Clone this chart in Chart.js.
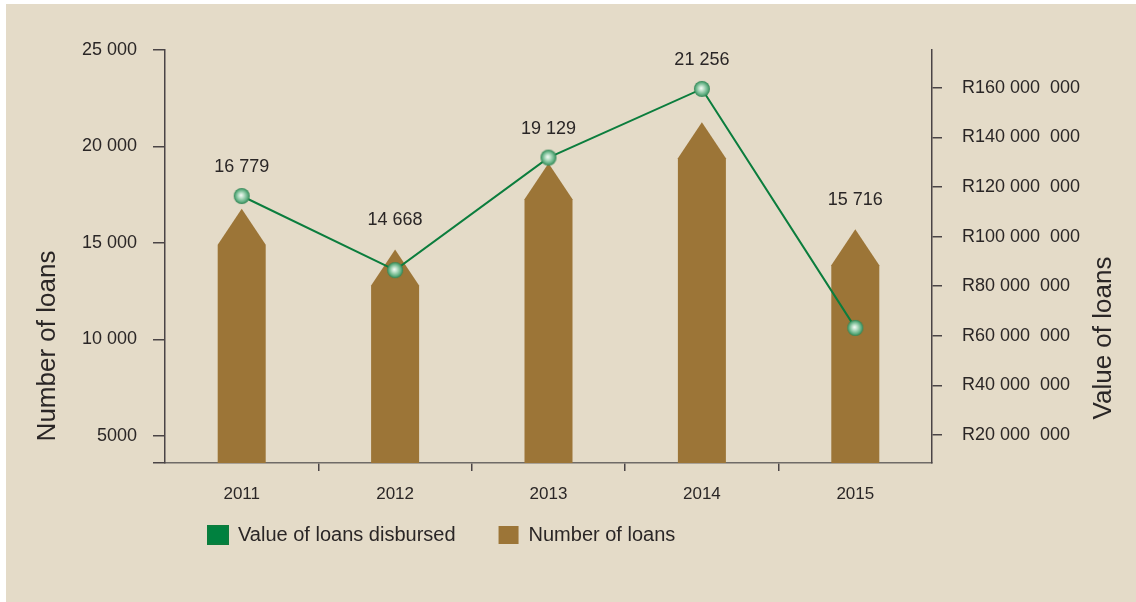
<!DOCTYPE html>
<html lang="en">
  <head>
    <meta charset="UTF-8" />
    <title>Number and value of loans</title>
    <style>
      body { margin: 0; background: #ffffff; }
      #panel {
        position: absolute;
        left: 6px;
        top: 4px;
        width: 1130px;
        height: 598px;
        background: #e4dbc8;
      }
    </style>
  </head>
  <body>
    <div id="panel"><canvas id="myChart" width="1130" height="598"></canvas></div>

    <script src="https://cdn.jsdelivr.net/npm/chart.js"></script>
    <script>
      const years = ["2011", "2012", "2013", "2014", "2015"];
      const loanCounts = [16779, 14668, 19129, 21256, 15716]; // number of loans
      const loanValues = [116.4e6, 86.5e6, 131.9e6, 159.6e6, 63.2e6]; // rand disbursed

      const countTicks = [5000, 10000, 15000, 20000, 25000];
      const countTickLabels = ["5000", "10 000", "15 000", "20 000", "25 000"];
      const valueTicks = [20e6, 40e6, 60e6, 80e6, 100e6, 120e6, 140e6, 160e6];
      const valueTickLabels = [
        "R20 000  000", "R40 000  000", "R60 000  000", "R80 000  000",
        "R100 000  000", "R120 000  000", "R140 000  000", "R160 000  000",
      ];

      const TEXT = "#2a2626";
      const AXIS = "#4a4446";
      const FONT = "'Liberation Sans', Arial, sans-serif";

      Chart.defaults.font.family = FONT;
      Chart.defaults.color = TEXT;

      // little glassy bead used for the line points
      function makeBead(r) {
        const size = Math.ceil(r * 2) + 2;
        const c = document.createElement("canvas");
        c.width = size;
        c.height = size;
        const g = c.getContext("2d");
        const m = size / 2;
        const grad = g.createRadialGradient(m - r * 0.1, m - r * 0.1, 0, m, m, r);
        grad.addColorStop(0, "#f7fcf9");
        grad.addColorStop(0.3, "#bfe2cb");
        grad.addColorStop(0.75, "#62b083");
        grad.addColorStop(1, "#2d8352");
        g.fillStyle = grad;
        g.beginPath();
        g.arc(m, m, r, 0, Math.PI * 2);
        g.fill();
        return c;
      }

      const spaced = (n) => String(n).replace(/\B(?=(\d{3})+(?!\d))/g, " ");

      // bars with a pointed roof, value labels, rotated axis titles
      const houseBars = {
        id: "houseBars",
        afterLayout(chart) {
          // pull the legend row up closer to the year labels
          const lg = chart.legend;
          lg.top -= 26;
          lg.bottom -= 26;
        },
        beforeDatasetDraw(chart, args) {
          if (args.meta.type !== "bar") return;
          const ctx = chart.ctx;
          const floor = chart.chartArea.bottom;
          ctx.save();
          ctx.fillStyle = chart.data.datasets[args.index].backgroundColor;
          args.meta.data.forEach((bar) => {
            const half = bar.width / 2;
            const roof = bar.width * 0.75;
            const base = Math.min(bar.base, floor);
            ctx.beginPath();
            ctx.moveTo(bar.x - half, base);
            ctx.lineTo(bar.x - half, bar.y + roof);
            ctx.lineTo(bar.x, bar.y);
            ctx.lineTo(bar.x + half, bar.y + roof);
            ctx.lineTo(bar.x + half, base);
            ctx.closePath();
            ctx.fill();
          });
          ctx.restore();
          return false;
        },
        afterDatasetsDraw(chart) {
          const ctx = chart.ctx;
          const beads = chart.getDatasetMeta(0).data;
          const bars = chart.getDatasetMeta(1).data;
          ctx.save();
          ctx.font = "18px " + FONT;
          ctx.fillStyle = TEXT;
          ctx.textAlign = "center";
          ctx.textBaseline = "middle";
          bars.forEach((bar, i) => {
            const top = Math.min(bar.y, beads[i].y);
            ctx.fillText(spaced(loanCounts[i]), bar.x, top - 29);
          });
          ctx.restore();
        },
        afterDraw(chart) {
          const ctx = chart.ctx;
          const area = chart.chartArea;
          ctx.save();
          ctx.font = "26px " + FONT;
          ctx.fillStyle = TEXT;
          ctx.textAlign = "center";
          ctx.textBaseline = "middle";
          ctx.translate(area.left - 117, area.bottom - 117);
          ctx.rotate(-Math.PI / 2);
          ctx.fillText("Number of loans", 0, 0);
          ctx.restore();

          ctx.save();
          ctx.font = "26px " + FONT;
          ctx.fillStyle = TEXT;
          ctx.textAlign = "center";
          ctx.textBaseline = "middle";
          ctx.translate(area.right + 172, area.bottom - 125);
          ctx.rotate(-Math.PI / 2);
          ctx.fillText("Value of loans", 0, 0);
          ctx.restore();
        },
      };

      const ctx = document.getElementById("myChart").getContext("2d");
      const chart = new Chart(ctx, {
        type: "bar",
        data: {
          labels: years,
          datasets: [
            {
              type: "line",
              label: "Value of loans disbursed",
              data: loanValues,
              yAxisID: "yValue",
              borderColor: "#0b7d3d",
              backgroundColor: "#00813f",
              borderWidth: 2,
              tension: 0,
              pointStyle: makeBead(8),
              pointRadius: 8,
            },
            {
              type: "bar",
              label: "Number of loans",
              data: loanCounts,
              yAxisID: "yCount",
              backgroundColor: "#9c7537",
              borderWidth: 0,
              barThickness: 48,
            },
          ],
        },
        options: {
          responsive: false,
          animation: false,
          layout: { padding: { top: 46, bottom: 21, left: 0, right: 0 } },
          scales: {
            x: {
              grid: {
                offset: true,
                drawOnChartArea: false,
                tickLength: 8,
                lineWidth: 1.5,
                color: (c) => (c.index >= 1 && c.index <= 4 ? AXIS : "transparent"),
              },
              border: { color: "#6f6b67", width: 1.5 },
              ticks: { color: TEXT, font: { size: 17 }, padding: 13 },
              afterFit: (s) => { s.height = 45; },
            },
            yCount: {
              position: "left",
              min: 3600,
              max: 25000,
              afterBuildTicks: (s) => {
                s.ticks = [3600, ...countTicks].map((v) => ({ value: v }));
              },
              ticks: {
                color: TEXT,
                font: { size: 18 },
                padding: 16,
                callback: (v) => {
                  const i = countTicks.indexOf(v);
                  return i < 0 ? "" : countTickLabels[i];
                },
              },
              grid: { drawOnChartArea: false, tickLength: 12, lineWidth: 1.5, color: AXIS },
              border: { color: AXIS, width: 1.5 },
              afterFit: (s) => { s.width = 159; },
            },
            yValue: {
              position: "right",
              min: 8.7e6,
              max: 175.3e6,
              afterBuildTicks: (s) => {
                s.ticks = valueTicks.map((v) => ({ value: v }));
              },
              ticks: {
                color: TEXT,
                font: { size: 18 },
                padding: 20,
                callback: (v) => {
                  const i = valueTicks.indexOf(v);
                  return i < 0 ? "" : valueTickLabels[i];
                },
              },
              grid: { drawOnChartArea: false, tickLength: 10, lineWidth: 1.5, color: AXIS },
              border: { color: AXIS, width: 1.5 },
              afterFit: (s) => { s.width = 204; },
            },
          },
          plugins: {
            legend: {
              position: "bottom",
              fullSize: false,
              align: "start",
              labels: {
                boxWidth: 20,
                boxHeight: 18,
                padding: 43,
                color: TEXT,
                font: { size: 20 },
              },
            },
            tooltip: { enabled: false },
          },
        },
        plugins: [houseBars],
      });
    </script>
  </body>
</html>
